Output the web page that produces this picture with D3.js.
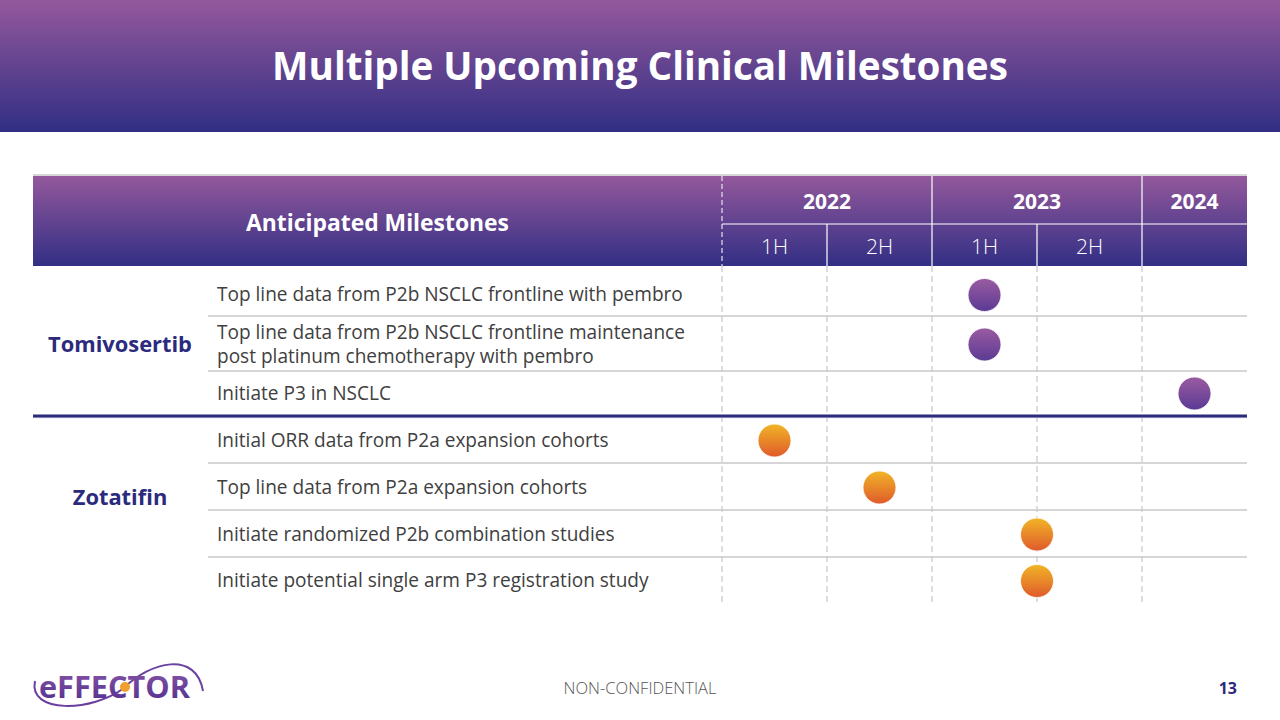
<!DOCTYPE html>
<html><head><meta charset="utf-8">
<script src="https://cdn.jsdelivr.net/npm/d3@7"></script>
<style>body{margin:0;background:#fff}svg{display:block}</style>
</head><body>
<svg id="c" width="1280" height="720"></svg>
<script>
// ---------- data ----------
const titleText = "Multiple Upcoming Clinical Milestones";
const headerLabel = "Anticipated Milestones";
const years = ["2022", "2023", "2024"];
const yearStart = [0, 2, 4];       // in half-year periods from start of 2022
const yearEnd = [2, 4, 5];
const halves = ["1H", "2H", "1H", "2H", ""];
const programs = ["Tomivosertib", "Zotatifin"];
const milestones = [
  ["Top line data from P2b NSCLC frontline with pembro"],
  ["Top line data from P2b NSCLC frontline maintenance", "post platinum chemotherapy with pembro"],
  ["Initiate P3 in NSCLC"],
  ["Initial ORR data from P2a expansion cohorts"],
  ["Top line data from P2a expansion cohorts"],
  ["Initiate randomized P2b combination studies"],
  ["Initiate potential single arm P3 registration study"]
];
const milestoneProgram = [0, 0, 0, 1, 1, 1, 1];
const milestoneTiming = [2.5, 2.5, 4.5, 0.5, 1.5, 3.0, 3.0];
const footerText = "NON-CONFIDENTIAL";
const pageNumber = "13";

// ---------- layout ----------
const W = 1280, H = 720;
const FONT = "'Open Sans', 'DejaVu Sans', sans-serif";
const tableL = 33, tableR = 1247, labelColR = 722;
const headTop = 176, headMid = 224, headBot = 266;
const rowH = [50, 55, 45, 47, 47, 47, 48];
const rowShift = [4, 1, 0, 1, 1, 1, 0];
const programLabelY = [345, 498];
const lineGap = 24;

const svg = d3.select("#c");
const defs = svg.append("defs");

function vGrad(id, c1, c2) {
  const g = defs.append("linearGradient").attr("id", id)
    .attr("x1", 0).attr("y1", 0).attr("x2", 0).attr("y2", 1);
  g.append("stop").attr("offset", "0%").attr("stop-color", c1);
  g.append("stop").attr("offset", "100%").attr("stop-color", c2);
}
vGrad("band", "#94589c", "#312e83");
vGrad("head", "#93589c", "#322f84");
vGrad("purpleDot", "#9a5ba1", "#5b3a94");
vGrad("orangeDot", "#f1b526", "#df5a2c");
vGrad("logo", "#8e58aa", "#4a2c8c");

function fit(sel, target) {
  const fs = parseFloat(sel.attr("font-size"));
  const w = sel.node().getComputedTextLength();
  sel.attr("font-size", fs * target / w);
  return fs * target / w;
}

// ---------- top band ----------
svg.append("rect").attr("x", 0).attr("y", 0).attr("width", W).attr("height", 132)
  .attr("fill", "url(#band)");
const t = svg.append("text").attr("x", 640).attr("y", 80).attr("text-anchor", "middle")
  .attr("font-family", FONT).attr("font-weight", 700).attr("font-size", 44)
  .attr("fill", "#fff").text(titleText);
fit(t, 736);

// ---------- scales ----------
const x = d3.scaleLinear().domain([0, 5]).range([labelColR, tableR]);
const rowTop = [];
let acc = headBot;
rowH.forEach(h => { rowTop.push(acc); acc += h; });
const tableBot = acc;

// ---------- header ----------
svg.append("line").attr("x1", tableL).attr("x2", tableR).attr("y1", headTop - 1).attr("y2", headTop - 1)
  .attr("stroke", "#c9c9c9").attr("stroke-width", 1.5);
svg.append("rect").attr("x", tableL).attr("y", headTop).attr("width", tableR - tableL)
  .attr("height", headBot - headTop).attr("fill", "url(#head)");

svg.append("line").attr("x1", labelColR).attr("x2", labelColR).attr("y1", headTop).attr("y2", headBot)
  .attr("stroke", "#e8e0f0").attr("stroke-width", 1.2).attr("stroke-dasharray", "5,3");
svg.append("line").attr("x1", labelColR).attr("x2", tableR).attr("y1", headMid).attr("y2", headMid)
  .attr("stroke", "#fff").attr("stroke-width", 1.2);
years.forEach((y, i) => {
  if (i > 0) svg.append("line").attr("x1", x(yearStart[i])).attr("x2", x(yearStart[i]))
    .attr("y1", headTop).attr("y2", headMid).attr("stroke", "#fff").attr("stroke-width", 1.2);
  svg.append("text").attr("x", (x(yearStart[i]) + x(yearEnd[i])) / 2).attr("y", 209)
    .attr("text-anchor", "middle").attr("font-family", FONT).attr("font-weight", 700)
    .attr("font-size", 21).attr("fill", "#fff").text(y);
});
halves.forEach((h, i) => {
  if (i > 0) svg.append("line").attr("x1", x(i)).attr("x2", x(i))
    .attr("y1", headMid).attr("y2", headBot).attr("stroke", "#fff").attr("stroke-width", 1.2);
  svg.append("text").attr("x", x(i + 0.5)).attr("y", 254)
    .attr("text-anchor", "middle").attr("font-family", FONT).attr("font-weight", 300)
    .attr("font-size", 21).attr("fill", "#fff").text(h);
});
const hl = svg.append("text").attr("x", (tableL + labelColR) / 2).attr("y", 231)
  .attr("text-anchor", "middle").attr("font-family", FONT).attr("font-weight", 700)
  .attr("font-size", 20).attr("fill", "#fff").text(headerLabel);
fit(hl, 263);

// ---------- body grid ----------
d3.range(0, 5).forEach(i => {
  svg.append("line").attr("x1", x(i)).attr("x2", x(i)).attr("y1", headBot).attr("y2", tableBot)
    .attr("stroke", "#d2d2d2").attr("stroke-width", 1.5).attr("stroke-dasharray", "6,4");
});
milestones.forEach((m, i) => {
  if (i === 0) return;
  const y0 = rowTop[i];
  if (milestoneProgram[i] !== milestoneProgram[i - 1]) {
    svg.append("line").attr("x1", tableL).attr("x2", tableR).attr("y1", y0 + 1.5).attr("y2", y0 + 1.5)
      .attr("stroke", "#d8d2ee").attr("stroke-width", 1.5);
    svg.append("line").attr("x1", tableL).attr("x2", tableR).attr("y1", y0).attr("y2", y0)
      .attr("stroke", "#2e2a7c").attr("stroke-width", 3);
  } else {
    svg.append("line").attr("x1", 208).attr("x2", tableR).attr("y1", y0).attr("y2", y0)
      .attr("stroke", "#c8c8c8").attr("stroke-width", 1.5);
  }
});

// ---------- milestone texts ----------
const probe = svg.append("text").attr("font-family", FONT).attr("font-size", 17).text(milestones[0][0]);
const msSize = fit(probe, 466);
probe.remove();
milestones.forEach((lines, i) => {
  const cy = rowTop[i] + rowH[i] / 2 + rowShift[i];
  const n = lines.length;
  lines.forEach((ln, k) => {
    svg.append("text").attr("x", 217).attr("y", cy + 6 + (k - (n - 1) / 2) * lineGap)
      .attr("font-family", FONT).attr("font-size", msSize).attr("fill", "#404040").text(ln);
  });
});

// ---------- program labels ----------
let pSize = null;
programs.forEach((p, i) => {
  const tx = svg.append("text").attr("x", 120).attr("y", programLabelY[i] + 7)
    .attr("text-anchor", "middle").attr("font-family", FONT).attr("font-weight", 700)
    .attr("font-size", pSize || 20).attr("fill", "#2b2a7d").text(p);
  if (pSize === null) pSize = fit(tx, 144);
});

// ---------- milestone dots ----------
svg.append("g").selectAll("circle").data(milestoneTiming).join("circle")
  .attr("cx", d => x(d))
  .attr("cy", (d, i) => rowTop[i] + rowH[i] / 2 + rowShift[i])
  .attr("r", 16.5)
  .attr("fill", (d, i) => milestoneProgram[i] === 0 ? "url(#purpleDot)" : "url(#orangeDot)")
  .attr("stroke", "#fff").attr("stroke-width", 0.8);

// ---------- footer ----------
const ft = svg.append("text").attr("x", 640).attr("y", 694).attr("text-anchor", "middle")
  .attr("font-family", FONT).attr("font-weight", 300).attr("font-size", 15)
  .attr("fill", "#555").text(footerText);
fit(ft, 153);
svg.append("text").attr("x", 1237).attr("y", 694).attr("text-anchor", "end")
  .attr("font-family", FONT).attr("font-weight", 700).attr("font-size", 16)
  .attr("fill", "#2b2a7d").text(pageNumber);

// logo
const logo = svg.append("g");
logo.append("path").attr("d", "M35,681 C28,714 92,712 124,688")
  .attr("fill", "none").attr("stroke", "#6a3f9e").attr("stroke-width", 2);
logo.append("path").attr("d", "M124,688 C150,662 196,650 203,691")
  .attr("fill", "none").attr("stroke", "#6a44a0").attr("stroke-width", 2);
const lt = logo.append("text").attr("x", 39).attr("y", 698)
  .attr("font-family", FONT).attr("font-weight", 700).attr("font-size", 28)
  .attr("fill", "url(#logo)").text("eFFECTOR");
fit(lt, 151);
logo.append("circle").attr("cx", 125).attr("cy", 687).attr("r", 5).attr("fill", "#f0a030");
</script>
</body></html>
